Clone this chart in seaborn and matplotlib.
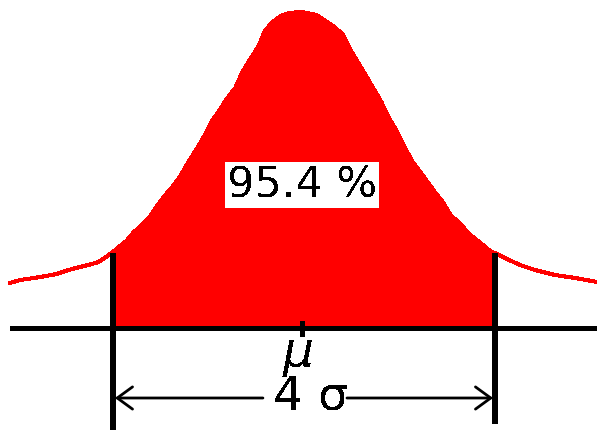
import numpy as np
import pandas as pd
import matplotlib
matplotlib.use("Agg")
import matplotlib.pyplot as plt
import seaborn as sns

# Curve: x in sigma units, height above baseline
x_sigma = [-3.08, -2.97, -2.76, -2.59, -2.50, -2.39, -2.26, -2.15, -2.06, -2.00,
           -1.94, -1.86, -1.78, -1.70, -1.61, -1.54, -1.46, -1.37, -1.30, -1.21,
           -1.13, -1.05, -0.97, -0.89, -0.81, -0.72, -0.65, -0.57, -0.48, -0.41,
           -0.33, -0.24, -0.16, -0.02, 0.13, 0.21, 0.32, 0.41, 0.48, 0.57,
           0.65, 0.73, 0.81, 0.89, 0.97, 1.06, 1.13, 1.21, 1.30, 1.37,
           1.46, 1.54, 1.62, 1.71, 1.78, 1.86, 1.95, 2.02, 2.15, 2.26,
           2.42, 2.63, 2.84, 3.07]
height = [45, 48, 51, 54, 57, 60, 63, 66, 72, 76,
          81, 87, 96, 103, 112, 122, 132, 142, 151, 166,
          178, 191, 206, 217, 229, 240, 255, 268, 281, 297,
          306, 312, 315, 316, 313, 308, 301, 293, 279, 265,
          252, 239, 226, 210, 197, 180, 167, 157, 145, 136,
          125, 112, 106, 96, 90, 84, 77, 74, 68, 63,
          58, 53, 50, 46]

bound_lo, bound_hi = -2.0, 2.0          # +/- 2 sigma
area_label = "95.4 %"
mean_label = r"$\mu$"
width_label = "4 σ"

df = pd.DataFrame({"x": x_sigma, "h": height})

sns.set_style("white")
plt.rcParams["font.family"] = ["DejaVu Sans"]
plt.rcParams["text.antialiased"] = False

fig = plt.figure(figsize=(5.97, 4.36), dpi=100)
ax = fig.add_axes([0, 0, 1, 1])
ax.set_xlim(-3.183, 3.068)
ax.set_ylim(-108, 328)
ax.axis("off")

# filled central region
inside = (df["x"] >= bound_lo - 0.01) & (df["x"] <= bound_hi + 0.03)
ax.fill_between(df["x"][inside], 0, df["h"][inside], color="#ff0000",
                linewidth=0, antialiased=False, zorder=1)

# curve
sns.lineplot(data=df, x="x", y="h", ax=ax, color="#ff0000", linewidth=2.2,
             antialiased=False, zorder=2, sort=False)

# baseline
ax.hlines(0, df["x"].iloc[0], 3.1, color="black", linewidth=2.2,
          antialiased=False, zorder=3)

# vertical bounds
ax.vlines(bound_lo, -102, 75, color="black", linewidth=2.9, antialiased=False, zorder=3)
ax.vlines(bound_hi, -96, 75, color="black", linewidth=2.9, antialiased=False, zorder=3)

# mean tick
ax.vlines(0 - 0.02, -8, 7, color="black", linewidth=2.2, antialiased=False, zorder=3)

# double arrow, broken around the label
arrow_y = -70
style = dict(arrowstyle="->,head_length=0.55,head_width=0.4",
             mutation_scale=20, lw=2.0, color="black", shrinkA=0, shrinkB=0)
ax.annotate("", xy=(bound_lo + 0.02, arrow_y), xytext=(-0.43, arrow_y),
            arrowprops=style, zorder=3)
ax.annotate("", xy=(bound_hi - 0.02, arrow_y), xytext=(0.45, arrow_y),
            arrowprops=style, zorder=3)

ax.text(0.07, -69, width_label, ha="center", va="center", fontsize=34,
        color="black", zorder=4)

ax.text(-0.07, -27, mean_label, ha="center", va="center", fontsize=35,
        color="black", zorder=4)

ax.text(-0.02, 143, area_label, ha="center", va="center", fontsize=31,
        color="black", zorder=4,
        bbox=dict(boxstyle="square,pad=0.05", fc="white", ec="none"))

fig.savefig("out.png", dpi=100, facecolor="white")
